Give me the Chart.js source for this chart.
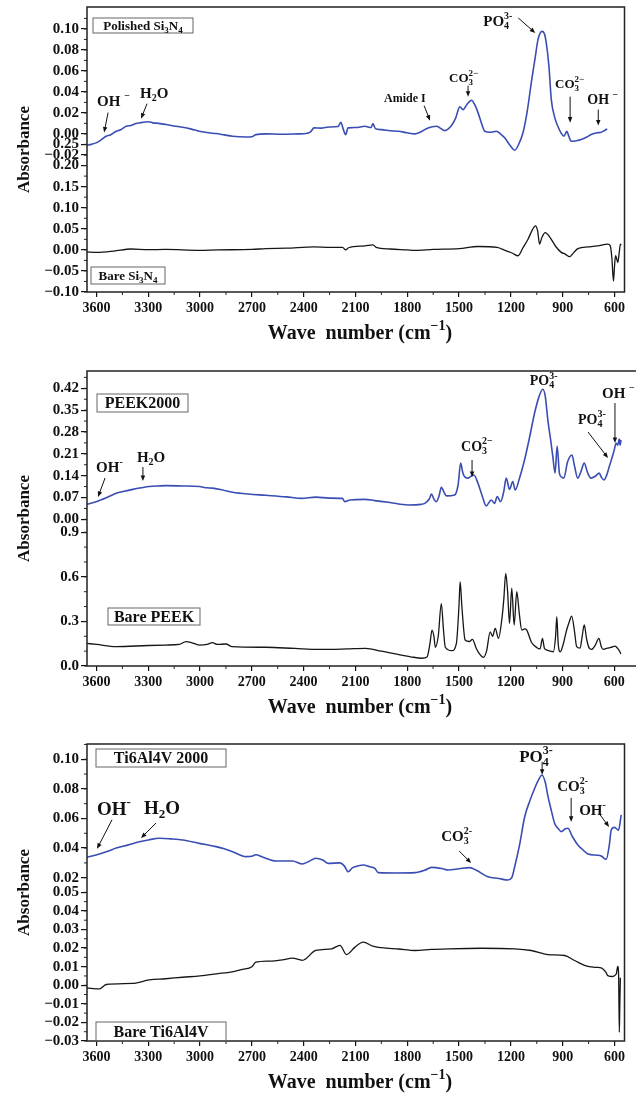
<!DOCTYPE html>
<html lang="en">
<head>
<meta charset="UTF-8" />
<title>FTIR spectra</title>
<script src="https://cdn.jsdelivr.net/npm/chart.js@4.4.1/dist/chart.umd.min.js"></script>
<style>
  body { margin: 0; background: #fff; width: 636px; height: 1096px; overflow: hidden; position: relative; }
  .panel { position: absolute; left: 0; width: 636px; overflow: hidden; }
  canvas { display: block; }
</style>
</head>
<body>
<div class="panel" style="top:-6px;height:353px"><canvas id="si3n4" width="636" height="353"></canvas></div>
<div class="panel" style="top:355px;height:366px"><canvas id="peek" width="660" height="366"></canvas></div>
<div class="panel" style="top:728px;height:368px"><canvas id="ti" width="636" height="368"></canvas></div>

<script>
// values (wave number in cm-1, absorbance)

const xTicks = [600, 900, 1200, 1500, 1800, 2100, 2400, 2700, 3000, 3300, 3600];
const xTickLabels = ['600', '900', '1200', '1500', '1800', '2100', '2400', '2700', '3000', '3300', '3600'];

// --- Si3N4 ---
const polishedSi3n4Wn = [3656, 3630, 3602, 3575, 3544, 3520, 3486, 3460, 3428, 3400, 3371, 3332, 3300, 3274, 3240, 3197, 3150, 3101, 3050, 3005, 2950, 2908, 2860, 2812, 2735, 2700, 2677, 2619, 2523, 2427, 2388, 2360, 2340, 2300, 2253, 2200, 2185, 2170, 2157, 2143, 2100, 2045, 2010, 1999, 1985, 1949, 1900, 1853, 1800, 1757, 1720, 1680, 1631, 1583, 1544, 1520, 1496, 1477, 1455, 1428, 1410, 1390, 1370, 1351, 1320, 1284, 1260, 1236, 1200, 1178, 1155, 1130, 1105, 1082, 1060, 1043, 1020, 1005, 995, 980, 966, 945, 928, 910, 893, 876, 865, 851, 820, 793, 760, 735, 700, 677, 660, 642];
const polishedSi3n4Abs = [-0.011, -0.010, -0.0086, -0.006, -0.0023, -0.001, 0.0025, 0.004, 0.0072, 0.008, 0.0098, 0.011, 0.0115, 0.0105, 0.010, 0.0089, 0.0075, 0.0063, 0.0045, 0.0025, 0.001, 0.0003, -0.001, -0.0023, -0.003, -0.0028, -0.0007, 0.0, -0.0004, 0.0, 0.0003, 0.002, 0.0057, 0.0055, 0.0065, 0.007, 0.011, 0.004, -0.0007, 0.0057, 0.006, 0.0072, 0.006, 0.0098, 0.005, 0.004, 0.003, 0.0025, 0.001, 0.0, 0.002, 0.0057, 0.0072, 0.0031, 0.0079, 0.015, 0.0257, 0.0231, 0.028, 0.032, 0.028, 0.020, 0.010, 0.0025, 0.0015, 0.0025, 0.0, -0.0038, -0.012, -0.0156, -0.010, 0.001, 0.022, 0.0486, 0.072, 0.0898, 0.0977, 0.095, 0.0866, 0.065, 0.0327, 0.015, 0.0072, 0.001, -0.0023, 0.0025, -0.002, -0.007, -0.0065, -0.0054, -0.003, -0.0007, 0.001, 0.0015, 0.003, 0.0048];

const bareSi3n4Wn = [3656, 3600, 3500, 3400, 3300, 3200, 3005, 2900, 2700, 2619, 2500, 2340, 2250, 2175, 2157, 2140, 2045, 1999, 1980, 1900, 1800, 1757, 1650, 1500, 1390, 1280, 1230, 1190, 1159, 1130, 1101, 1075, 1058, 1045, 1034, 1020, 1001, 985, 966, 940, 908, 885, 860, 835, 812, 750, 697, 639, 625, 615, 606, 600, 594, 588, 581, 572, 566, 560];
const bareSi3n4Abs = [-0.005, -0.006, -0.003, 0.002, 0.0005, 0.001, -0.001, 0.0, 0.001, 0.003, 0.004, 0.007, 0.006, 0.006, 0.0, 0.005, 0.0095, 0.012, 0.006, 0.002, 0.0, -0.001, 0.001, 0.003, 0.008, 0.006, -0.002, -0.008, -0.014, 0.005, 0.025, 0.048, 0.057, 0.045, 0.0136, 0.030, 0.041, 0.036, 0.025, 0.008, -0.006, -0.010, -0.016, -0.006, 0.003, 0.007, 0.0095, 0.0136, 0.010, -0.020, -0.074, -0.040, -0.014, -0.020, -0.030, -0.005, 0.0136, 0.012];

const si3n4TopTicks = [-0.02, 0, 0.02, 0.04, 0.06, 0.08, 0.10];
const si3n4TopLabels = ['\u22120.02', '0.00', '0.02', '0.04', '0.06', '0.08', '0.10'];
const si3n4BotTicks = [-0.10, -0.05, 0, 0.05, 0.10, 0.15, 0.20, 0.25];
const si3n4BotLabels = ['\u22120.10', '\u22120.05', '0.00', '0.05', '0.10', '0.15', '0.20', '0.25'];

// --- PEEK ---
const peek2000Wn = [3656, 3602, 3540, 3486, 3440, 3390, 3340, 3294, 3240, 3197, 3100, 3005, 2960, 2929, 2870, 2812, 2720, 2619, 2500, 2411, 2330, 2250, 2175, 2161, 2130, 2045, 1988, 1900, 1795, 1720, 1698, 1672, 1659, 1645, 1631, 1615, 1602, 1585, 1573, 1525, 1505, 1490, 1478, 1468, 1449, 1430, 1413, 1390, 1365, 1342, 1313, 1294, 1278, 1259, 1240, 1226, 1207, 1188, 1174, 1150, 1120, 1090, 1062, 1035, 1014, 1000, 985, 970, 956, 943, 931, 918, 905, 893, 870, 845, 830, 812, 795, 774, 755, 735, 710, 687, 675, 659, 645, 629, 600, 590, 580, 571, 566, 561];
const peek2000Abs = [0.048, 0.0565, 0.070, 0.0835, 0.090, 0.096, 0.101, 0.105, 0.107, 0.108, 0.107, 0.105, 0.101, 0.100, 0.094, 0.087, 0.081, 0.077, 0.072, 0.067, 0.071, 0.068, 0.067, 0.0565, 0.062, 0.064, 0.060, 0.054, 0.046, 0.048, 0.051, 0.065, 0.081, 0.065, 0.0565, 0.075, 0.103, 0.085, 0.075, 0.078, 0.110, 0.180, 0.150, 0.137, 0.132, 0.138, 0.142, 0.116, 0.075, 0.043, 0.062, 0.051, 0.073, 0.0565, 0.090, 0.132, 0.096, 0.121, 0.094, 0.130, 0.190, 0.265, 0.340, 0.395, 0.417, 0.395, 0.319, 0.260, 0.201, 0.148, 0.235, 0.148, 0.135, 0.132, 0.185, 0.206, 0.170, 0.132, 0.150, 0.180, 0.150, 0.132, 0.138, 0.148, 0.135, 0.126, 0.140, 0.169, 0.222, 0.244, 0.238, 0.257, 0.238, 0.255];

const barePeekWn = [3656, 3600, 3486, 3300, 3197, 3120, 3082, 3050, 3005, 2960, 2928, 2900, 2850, 2814, 2619, 2450, 2311, 2253, 2150, 2041, 1950, 1868, 1780, 1714, 1685, 1668, 1656, 1645, 1637, 1620, 1602, 1590, 1579, 1541, 1515, 1500, 1493, 1483, 1464, 1440, 1422, 1400, 1380, 1358, 1340, 1319, 1305, 1290, 1271, 1252, 1240, 1229, 1218, 1207, 1194, 1180, 1165, 1150, 1136, 1120, 1107, 1080, 1050, 1030, 1016, 1005, 991, 953, 940, 933, 925, 913, 895, 876, 860, 847, 830, 818, 798, 786, 774, 760, 745, 732, 710, 689, 675, 664, 640, 620, 596, 575, 561];
const barePeekAbs = [0.152, 0.145, 0.130, 0.138, 0.141, 0.145, 0.164, 0.158, 0.141, 0.145, 0.157, 0.145, 0.148, 0.130, 0.126, 0.118, 0.112, 0.112, 0.115, 0.119, 0.100, 0.081, 0.062, 0.052, 0.060, 0.150, 0.242, 0.200, 0.126, 0.200, 0.420, 0.250, 0.126, 0.103, 0.150, 0.400, 0.567, 0.400, 0.175, 0.165, 0.179, 0.120, 0.080, 0.058, 0.100, 0.230, 0.200, 0.253, 0.186, 0.309, 0.450, 0.623, 0.500, 0.287, 0.523, 0.276, 0.500, 0.350, 0.242, 0.250, 0.242, 0.160, 0.125, 0.115, 0.186, 0.120, 0.108, 0.096, 0.200, 0.332, 0.150, 0.096, 0.150, 0.242, 0.300, 0.336, 0.230, 0.130, 0.120, 0.200, 0.276, 0.180, 0.120, 0.112, 0.140, 0.186, 0.130, 0.112, 0.120, 0.125, 0.134, 0.110, 0.081];

const peekTopTicks = [0, 0.07, 0.14, 0.21, 0.28, 0.35, 0.42];
const peekTopLabels = ['0.00', '0.07', '0.14', '0.21', '0.28', '0.35', '0.42'];
const peekBotTicks = [0, 0.3, 0.6, 0.9];
const peekBotLabels = ['0.0', '0.3', '0.6', '0.9'];

// --- Ti6Al4V ---
const ti2000Wn = [3656, 3583, 3530, 3486, 3420, 3352, 3300, 3236, 3170, 3101, 3005, 2908, 2860, 2812, 2735, 2700, 2677, 2640, 2561, 2465, 2408, 2370, 2330, 2290, 2257, 2190, 2165, 2142, 2120, 2103, 2055, 2020, 1988, 1968, 1860, 1756, 1700, 1659, 1600, 1563, 1500, 1438, 1400, 1334, 1270, 1218, 1195, 1178, 1150, 1120, 1090, 1062, 1040, 1020, 1000, 985, 965, 947, 925, 908, 885, 870, 845, 812, 780, 754, 700, 677, 648, 630, 619, 600, 577, 561];
const ti2000Abs = [0.0338, 0.036, 0.038, 0.040, 0.042, 0.0443, 0.0455, 0.0466, 0.0462, 0.0455, 0.0432, 0.041, 0.0395, 0.0376, 0.0342, 0.0345, 0.0355, 0.034, 0.0313, 0.0313, 0.0293, 0.031, 0.0331, 0.032, 0.0297, 0.030, 0.028, 0.024, 0.0265, 0.0274, 0.0286, 0.0275, 0.0263, 0.0234, 0.0232, 0.0234, 0.025, 0.027, 0.0262, 0.0252, 0.026, 0.0268, 0.025, 0.0207, 0.0195, 0.0184, 0.020, 0.0274, 0.042, 0.0612, 0.072, 0.0804, 0.086, 0.0894, 0.084, 0.0747, 0.065, 0.0568, 0.053, 0.0511, 0.053, 0.0534, 0.048, 0.0421, 0.0385, 0.036, 0.0352, 0.0347, 0.0324, 0.042, 0.0522, 0.054, 0.052, 0.0624];

const bareTiWn = [3656, 3583, 3544, 3390, 3294, 3200, 3101, 3000, 2908, 2800, 2754, 2700, 2677, 2600, 2523, 2465, 2408, 2330, 2238, 2190, 2152, 2103, 2055, 2000, 1949, 1850, 1756, 1660, 1563, 1370, 1178, 1082, 985, 889, 831, 754, 700, 677, 650, 639, 610, 590, 581, 576, 572, 569, 566];
const bareTiAbs = [-0.0014, -0.002, 0.0004, 0.001, 0.0029, 0.0035, 0.0043, 0.005, 0.0061, 0.0075, 0.0085, 0.010, 0.0124, 0.013, 0.0137, 0.0146, 0.0134, 0.0187, 0.0196, 0.0214, 0.0165, 0.0205, 0.0232, 0.021, 0.0202, 0.0195, 0.0187, 0.0193, 0.0196, 0.0199, 0.0196, 0.0187, 0.0165, 0.016, 0.0133, 0.0101, 0.0096, 0.0094, 0.007, 0.0052, 0.0047, 0.006, 0.0101, 0.005, -0.0253, -0.010, 0.004];

const tiTopTicks = [0.02, 0.04, 0.06, 0.08, 0.10];
const tiTopLabels = ['0.02', '0.04', '0.06', '0.08', '0.10'];
const tiBotTicks = [-0.03, -0.02, -0.01, 0, 0.01, 0.02, 0.03, 0.04, 0.05];
const tiBotLabels = ['\u22120.03', '\u22120.02', '\u22120.01', '0.00', '0.01', '0.02', '0.03', '0.04', '0.05'];

const FONT = '"Liberation Serif", "Times New Roman", serif';
const BLUE = '#3a4db3';
const BLACK = '#161616';

function points(wn, abs) {
  return wn.map((w, i) => ({ x: w, y: abs[i] }));
}

function steps(from, to, step) {
  const out = [];
  for (let v = from; v <= to + step / 2; v += step) out.push(Math.round(v * 10000) / 10000);
  return out;
}

// tiny chemical-formula writer: "CO_{3}^{2-}" -> CO with stacked sub/sup
function parseChem(str) {
  const parts = [];
  const re = /_\{([^}]*)\}|\^\{([^}]*)\}|([^_^]+)/g;
  let m;
  while ((m = re.exec(str))) {
    if (m[3] !== undefined) { parts.push({ text: m[3] }); continue; }
    const key = m[1] !== undefined ? 'sub' : 'sup';
    const val = m[1] !== undefined ? m[1] : m[2];
    const last = parts[parts.length - 1];
    if (last && last.script && last[key] === undefined) last[key] = val;
    else parts.push({ script: true, [key]: val });
  }
  return parts;
}

function chem(ctx, str, x, y, size, draw) {
  let cx = x;
  ctx.textBaseline = 'middle';
  ctx.textAlign = 'left';
  for (const p of parseChem(str)) {
    if (!p.script) {
      ctx.font = 'bold ' + size + 'px ' + FONT;
      if (draw) ctx.fillText(p.text, cx, y);
      cx += ctx.measureText(p.text).width;
    } else {
      ctx.font = 'bold ' + Math.round(size * 0.68) + 'px ' + FONT;
      let w = 0;
      if (p.sup !== undefined) {
        if (draw) ctx.fillText(p.sup, cx, y - size * 0.38);
        w = Math.max(w, ctx.measureText(p.sup).width);
      }
      if (p.sub !== undefined) {
        if (draw) ctx.fillText(p.sub, cx, y + size * 0.32);
        w = Math.max(w, ctx.measureText(p.sub).width);
      }
      cx += w;
    }
  }
  return cx - x;
}

function arrow(ctx, x1, y1, x2, y2) {
  const ang = Math.atan2(y2 - y1, x2 - x1);
  const len = 6;
  ctx.beginPath();
  ctx.moveTo(x1, y1);
  ctx.lineTo(x2 - Math.cos(ang) * 3, y2 - Math.sin(ang) * 3);
  ctx.stroke();
  ctx.beginPath();
  ctx.moveTo(x2, y2);
  ctx.lineTo(x2 - len * Math.cos(ang - 0.38), y2 - len * Math.sin(ang - 0.38));
  ctx.lineTo(x2 - len * Math.cos(ang + 0.38), y2 - len * Math.sin(ang + 0.38));
  ctx.closePath();
  ctx.fill();
}

const extras = {
  id: 'extras',
  afterDraw(chart, args, o) {
    const { ctx, chartArea: a, scales } = chart;
    ctx.save();
    ctx.strokeStyle = '#222';
    ctx.fillStyle = '#111';
    ctx.lineWidth = 1;

    // minor ticks
    ctx.beginPath();
    for (const v of o.xMinor) {
      const px = scales.x.getPixelForValue(v);
      if (px <= a.left || px >= a.right) continue;
      ctx.moveTo(px, a.bottom);
      ctx.lineTo(px, a.bottom + 3);
    }
    for (const m of o.yMinor) {
      for (const v of m.values) {
        const py = scales[m.axis].getPixelForValue(v);
        if (py < a.top || py > a.bottom) continue;
        ctx.moveTo(a.left, py);
        ctx.lineTo(a.left - 3, py);
      }
    }
    ctx.stroke();

    // frame
    ctx.lineWidth = 1.5;
    ctx.strokeRect(a.left, a.top, a.right - a.left, a.bottom - a.top);

    // sample name boxes
    for (const b of o.boxes) {
      const bx = a.left + b.x, by = a.top + b.y;
      ctx.lineWidth = 1;
      ctx.strokeStyle = '#666';
      ctx.strokeRect(bx, by, b.w, b.h);
      const w = chem(ctx, b.text, 0, 0, b.size, false);
      chem(ctx, b.text, bx + (b.w - w) / 2, by + b.h / 2 + 1, b.size, true);
    }

    // band assignments
    ctx.strokeStyle = '#111';
    ctx.lineWidth = 1;
    for (const n of o.notes) {
      const tx = scales.x.getPixelForValue(n.x);
      const ty = scales[n.axis].getPixelForValue(n.y);
      if (n.ax !== undefined) arrow(ctx, tx + n.ax, ty + n.ay, tx, ty);
      chem(ctx, n.text, tx + n.dx, ty + n.dy, n.size, true);
    }

    // x title with superscript
    const w = chem(ctx, o.xTitle, 0, 0, 20, false);
    chem(ctx, o.xTitle, o.xTitleX - w / 2, a.bottom + 42, 20, true);
    ctx.restore();
  }
};

const tickFont = { family: FONT, size: 15, weight: 'bold' };

function yScale(min, max, ticks, labels, weight, width, title) {
  return {
    type: 'linear',
    position: 'left',
    min, max, weight,
    afterFit: s => {
      s.width = width;
      // the zero-width axis shares the outer axis' label column, so do not clip its labels
      if (width === 0) s._computeLabelArea = () => undefined;
    },
    afterBuildTicks: s => { s.ticks = ticks.map(v => ({ value: v })); },
    ticks: { autoSkip: false, padding: 2, color: '#111', font: tickFont, callback: (v, i) => labels[i] },
    grid: { drawOnChartArea: false, tickLength: 6, color: '#111', lineWidth: 1.2 },
    border: { display: false },
    title: title
      ? { display: true, text: title, color: '#111', font: { family: FONT, size: 17, weight: 'bold' }, padding: { top: 4, bottom: 0 } }
      : { display: false }
  };
}

function makeChart(id, p) {
  new Chart(document.getElementById(id), {
    type: 'line',
    data: {
      datasets: [
        { data: points(p.topWn, p.topAbs), yAxisID: 'yTop', borderColor: BLUE, borderWidth: 1.6 },
        { data: points(p.botWn, p.botAbs), yAxisID: 'yBot', borderColor: BLACK, borderWidth: 1.3 }
      ]
    },
    options: {
      responsive: false,
      animation: false,
      devicePixelRatio: 1,
      events: [],
      layout: { padding: p.padding },
      elements: { point: { radius: 0 }, line: { cubicInterpolationMode: 'monotone' } },
      scales: {
        x: {
          type: 'linear',
          reverse: true,
          min: p.xMin, max: p.xMax,
          afterFit: s => { s.height = 55; },
          afterBuildTicks: s => { s.ticks = xTicks.map(v => ({ value: v })); },
          ticks: { autoSkip: false, maxRotation: 0, padding: 3, color: '#111', font: { family: FONT, size: 14, weight: 'bold' }, callback: (v, i) => xTickLabels[i] },
          grid: { drawOnChartArea: false, tickLength: 5, color: '#111', lineWidth: 1.2 },
          border: { display: false }
        },
        yBot: yScale(p.botRange[0], p.botRange[1], p.botTicks, p.botLabels, 2, 77, 'Absorbance'),
        yTop: yScale(p.topRange[0], p.topRange[1], p.topTicks, p.topLabels, 1, 0, null)
      },
      plugins: {
        legend: { display: false },
        tooltip: { enabled: false },
        extras: {
          xMinor: steps(450, 3450, 300),
          yMinor: [{ axis: 'yTop', values: p.topMinor }, { axis: 'yBot', values: p.botMinor }],
          boxes: p.boxes,
          notes: p.notes,
          xTitle: 'Wave  number (cm^{\u22121})',
          xTitleX: 360
        }
      }
    },
    plugins: [extras]
  });
}

makeChart('si3n4', {
  padding: { left: 10, top: 13, right: 11.5, bottom: 0 },
  xMin: 542, xMax: 3655,
  topWn: polishedSi3n4Wn, topAbs: polishedSi3n4Abs,
  botWn: bareSi3n4Wn, botAbs: bareSi3n4Abs,
  topRange: [-0.1507, 0.1209], botRange: [-0.10, 0.5763],
  topTicks: si3n4TopTicks, topLabels: si3n4TopLabels,
  botTicks: si3n4BotTicks, botLabels: si3n4BotLabels,
  topMinor: steps(-0.02, 0.11, 0.01), botMinor: steps(-0.10, 0.25, 0.025),
  boxes: [
    { text: 'Polished Si_{3}N_{4}', x: 6, y: 11, w: 100, h: 15, size: 13 },
    { text: 'Bare Si_{3}N_{4}', x: 4, y: 260, w: 74, h: 17, size: 13 }
  ],
  notes: [
    { axis: 'yTop', x: 3556, y: 0.0012, text: 'OH ^{\u2212}', size: 15, dx: -7, dy: -30, ax: 4, ay: -20 },
    { axis: 'yTop', x: 3342, y: 0.0145, text: 'H_{2}O', size: 15, dx: -1, dy: -25, ax: 6, ay: -15 },
    { axis: 'yTop', x: 1668, y: 0.0126, text: 'Amide I', size: 12, dx: -46, dy: -22, ax: -6, ay: -15 },
    { axis: 'yTop', x: 1448, y: 0.0354, text: 'CO_{3}^{2\u2212}', size: 13, dx: -19, dy: -18, ax: 0, ay: -11 },
    { axis: 'yTop', x: 1059, y: 0.0962, text: 'PO_{4}^{3-}', size: 15, dx: -52, dy: -11, ax: -17, ay: -15 },
    { axis: 'yTop', x: 857, y: 0.0107, text: 'CO_{3}^{2\u2212}', size: 13, dx: -15, dy: -38, ax: 0, ay: -26 },
    { axis: 'yTop', x: 694, y: 0.0079, text: 'OH ^{\u2212}', size: 14, dx: -11, dy: -25, ax: 0, ay: -16 }
  ]
});

makeChart('peek', {
  padding: { left: 10, top: 16, right: 10, bottom: 0 },
  xMin: 393, xMax: 3655,
  topWn: peek2000Wn, topAbs: peek2000Abs,
  botWn: barePeekWn, botAbs: barePeekAbs,
  topRange: [-0.4703, 0.4755], botRange: [0, 1.985],
  topTicks: peekTopTicks, topLabels: peekTopLabels,
  botTicks: peekBotTicks, botLabels: peekBotLabels,
  topMinor: steps(0, 0.455, 0.035), botMinor: steps(0, 0.9, 0.1),
  boxes: [
    { text: 'PEEK2000', x: 10, y: 23, w: 91, h: 18, size: 16 },
    { text: 'Bare PEEK', x: 21, y: 237, w: 92, h: 17, size: 16 }
  ],
  notes: [
    { axis: 'yTop', x: 3591, y: 0.0715, text: 'OH^{-}', size: 15, dx: -2, dy: -29, ax: 7, ay: -19 },
    { axis: 'yTop', x: 3331, y: 0.1228, text: 'H_{2}O', size: 15, dx: -6, dy: -23, ax: 0, ay: -14 },
    { axis: 'yTop', x: 1424, y: 0.1356, text: 'CO_{3}^{2\u2212}', size: 14, dx: -11, dy: -30, ax: 0, ay: -17 },
    { axis: 'yTop', x: 1014, y: 0.42, text: 'PO_{4}^{3-}', size: 14, dx: -13, dy: -7 },
    { axis: 'yTop', x: 636, y: 0.1965, text: 'PO_{4}^{3-}', size: 14, dx: -30, dy: -38, ax: -20, ay: -26 },
    { axis: 'yTop', x: 596, y: 0.2446, text: 'OH ^{\u2212}', size: 15, dx: -13, dy: -49, ax: 0, ay: -40 }
  ]
});

makeChart('ti', {
  padding: { left: 10, top: 16, right: 11.5, bottom: 0 },
  xMin: 542, xMax: 3655,
  topWn: ti2000Wn, topAbs: ti2000Abs,
  botWn: bareTiWn, botAbs: bareTiAbs,
  topRange: [-0.0903, 0.1103], botRange: [-0.03, 0.1298],
  topTicks: tiTopTicks, topLabels: tiTopLabels,
  botTicks: tiBotTicks, botLabels: tiBotLabels,
  topMinor: steps(0.02, 0.11, 0.01), botMinor: steps(-0.03, 0.05, 0.005),
  boxes: [
    { text: 'Ti6Al4V 2000', x: 9, y: 5, w: 130, h: 18, size: 16 },
    { text: 'Bare Ti6Al4V', x: 9, y: 278, w: 130, h: 19, size: 16 }
  ],
  notes: [
    { axis: 'yTop', x: 3597, y: 0.0395, text: 'OH^{-}', size: 19, dx: 0, dy: -39, ax: 15, ay: -29 },
    { axis: 'yTop', x: 3342, y: 0.0468, text: 'H_{2}O', size: 19, dx: 3, dy: -29, ax: 15, ay: -15 },
    { axis: 'yTop', x: 1430, y: 0.0299, text: 'CO_{3}^{2-}', size: 15, dx: -30, dy: -26, ax: -12, ay: -12 },
    { axis: 'yTop', x: 1019, y: 0.0895, text: 'PO_{4}^{3-}', size: 17, dx: -23, dy: -17, ax: 0, ay: -13 },
    { axis: 'yTop', x: 851, y: 0.0577, text: 'CO_{3}^{2-}', size: 15, dx: -14, dy: -35, ax: 0, ay: -24 },
    { axis: 'yTop', x: 631, y: 0.0543, text: 'OH^{-}', size: 15, dx: -30, dy: -16, ax: -9, ay: -12 }
  ]
});
</script>
</body>
</html>
